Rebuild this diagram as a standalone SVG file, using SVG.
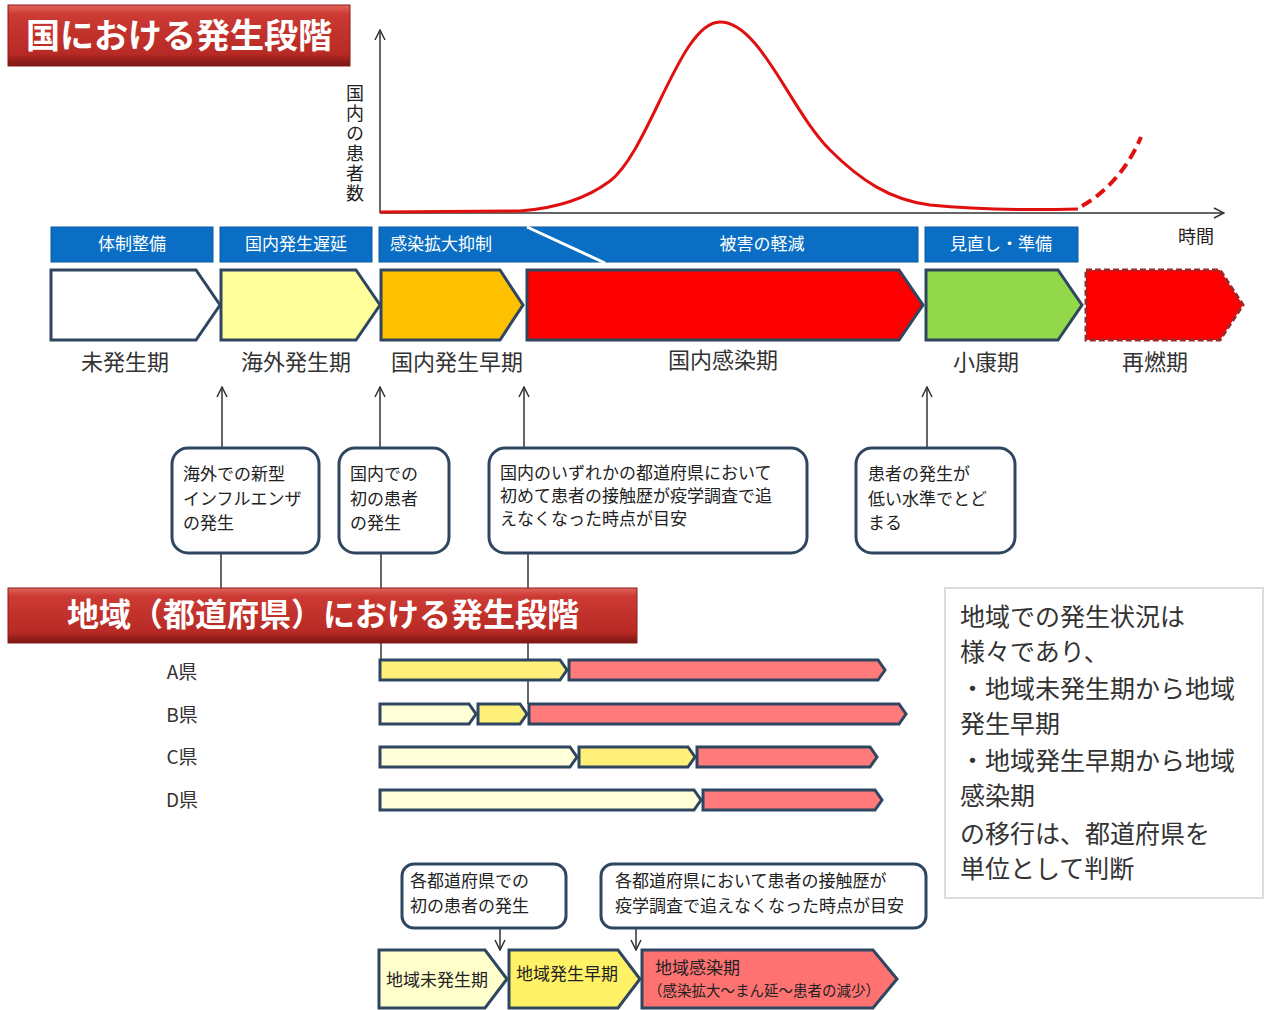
<svg xmlns="http://www.w3.org/2000/svg" width="1266" height="1010" viewBox="0 0 1266 1010">
<defs>
<linearGradient id="tg" x1="0" y1="0" x2="0" y2="1">
<stop offset="0" stop-color="#e0665c"/><stop offset="0.15" stop-color="#cc3a33"/><stop offset="0.8" stop-color="#b82a25"/><stop offset="1" stop-color="#7a1512"/>
</linearGradient>
<marker id="ah" viewBox="0 0 12 12" refX="11" refY="6" markerWidth="12" markerHeight="12" markerUnits="userSpaceOnUse" orient="auto">
<path d="M1,1 L11,6 L1,11" fill="none" stroke="#333" stroke-width="1.5"/>
</marker>
<style>
text{font-family:"Noto Sans CJK JP","Noto Sans CJK SC",sans-serif;fill:#222}
.title{fill:#fff;font-weight:bold}
.bar{fill:#0a6fc4;stroke:#0a5aa0;stroke-width:1}
.bt{fill:#fff;font-size:17px}
.ph{stroke:#2e4660;stroke-width:3}
.pl{font-size:22px;fill:#333}
.cb{fill:#fff;stroke:#2e4660;stroke-width:3}
.ct{font-size:17px}
.ar{stroke:#333;stroke-width:1.5;fill:none}
.rb{stroke:#2e4660;stroke-width:3}
.rl{font-size:19px;fill:#333}
.nt{font-size:25px;fill:#333}
.bl{font-size:17px}
</style>
</defs>

<g id="title1">
<rect x="8" y="5" width="342" height="61" fill="url(#tg)" stroke="#8a1d18" stroke-width="1"/>
<text x="179" y="48" class="title" font-size="34" text-anchor="middle">国における発生段階</text>
</g>

<g id="chart">
<line x1="380" y1="213" x2="380" y2="30" class="ar" marker-end="url(#ah)"/>
<line x1="380" y1="213" x2="1224" y2="213" class="ar" marker-end="url(#ah)"/>
<text x="355" y="84" font-size="18" writing-mode="vertical-rl" letter-spacing="2">国内の患者数</text>
<text x="1196" y="243" font-size="18" text-anchor="middle">時間</text>
<path d="M380,212 L520,211 C560,208 590,196 610,181 C650,150 680,22 720,22 C760,22 790,110 830,150 C860,180 890,200 930,205 C980,210 1040,210 1078,209" fill="none" stroke="#e01010" stroke-width="3"/>
<path d="M1082,206 C1105,193 1127,170 1141,137" fill="none" stroke="#e01010" stroke-width="4" stroke-dasharray="11 6"/>
</g>

<g id="strategy">
<rect x="51" y="227" width="162" height="35" class="bar"/>
<text x="132" y="250" class="bt" text-anchor="middle">体制整備</text>
<rect x="220" y="227" width="152" height="35" class="bar"/>
<text x="296" y="250" class="bt" text-anchor="middle">国内発生遅延</text>
<rect x="379" y="227" width="539" height="35" class="bar"/>
<line x1="527" y1="227" x2="605" y2="263" stroke="#fff" stroke-width="3"/>
<text x="390" y="250" class="bt">感染拡大抑制</text>
<text x="762" y="250" class="bt" text-anchor="middle">被害の軽減</text>
<rect x="925" y="227" width="153" height="35" class="bar"/>
<text x="1001" y="250" class="bt" text-anchor="middle">見直し・準備</text>
</g>

<g id="phases">
<polygon points="51,270 196,270 220,305 196,340 51,340" fill="#fff" class="ph"/>
<polygon points="221,270 356,270 380,305 356,340 221,340" fill="#ffff9c" class="ph"/>
<polygon points="381,270 500,270 523,305 500,340 381,340" fill="#ffc000" class="ph"/>
<polygon points="527,270 899,270 923,305 899,340 527,340" fill="#ff0000" class="ph"/>
<polygon points="926,270 1058,270 1082,305 1058,340 926,340" fill="#92d84a" class="ph"/>
<polygon points="1086,270 1220,270 1243,305 1220,340 1086,340" fill="#ff0000" stroke="#9a2a2a" stroke-width="3" stroke-dasharray="6 3"/>
<text x="125" y="370" class="pl" text-anchor="middle">未発生期</text>
<text x="296" y="370" class="pl" text-anchor="middle">海外発生期</text>
<text x="457" y="370" class="pl" text-anchor="middle">国内発生早期</text>
<text x="723" y="368" class="pl" text-anchor="middle">国内感染期</text>
<text x="986" y="370" class="pl" text-anchor="middle">小康期</text>
<text x="1155" y="370" class="pl" text-anchor="middle">再燃期</text>
</g>

<g id="connectors">
<line x1="222" y1="448" x2="222" y2="387" class="ar" marker-end="url(#ah)"/>
<line x1="380" y1="448" x2="380" y2="387" class="ar" marker-end="url(#ah)"/>
<line x1="524" y1="448" x2="524" y2="387" class="ar" marker-end="url(#ah)"/>
<line x1="927" y1="448" x2="927" y2="387" class="ar" marker-end="url(#ah)"/>
<line x1="221" y1="553" x2="221" y2="588" class="ar"/>
<line x1="381" y1="553" x2="381" y2="660" class="ar"/>
<line x1="528" y1="553" x2="528" y2="704" class="ar"/>
<line x1="500" y1="928" x2="500" y2="950" class="ar" marker-end="url(#ah)"/>
<line x1="636" y1="928" x2="636" y2="950" class="ar" marker-end="url(#ah)"/>
</g>

<g id="note1">
<rect x="172" y="448" width="147" height="105" rx="16" class="cb"/>
<text x="183" y="480" class="ct">海外での新型</text>
<text x="183" y="505" class="ct">インフルエンザ</text>
<text x="183" y="529" class="ct">の発生</text>
</g>
<g id="note2">
<rect x="339" y="448" width="110" height="105" rx="16" class="cb"/>
<text x="350" y="480" class="ct">国内での</text>
<text x="350" y="505" class="ct">初の患者</text>
<text x="350" y="529" class="ct">の発生</text>
</g>
<g id="note3">
<rect x="489" y="448" width="318" height="105" rx="16" class="cb"/>
<text x="500" y="479" class="ct">国内のいずれかの都道府県において</text>
<text x="500" y="502" class="ct">初めて患者の接触歴が疫学調査で追</text>
<text x="500" y="525" class="ct">えなくなった時点が目安</text>
</g>
<g id="note4">
<rect x="856" y="448" width="159" height="105" rx="16" class="cb"/>
<text x="868" y="480" class="ct">患者の発生が</text>
<text x="868" y="505" class="ct">低い水準でとど</text>
<text x="868" y="529" class="ct">まる</text>
</g>

<g id="title2">
<rect x="8" y="588" width="629" height="55" fill="url(#tg)" stroke="#8a1d18" stroke-width="1"/>
<text x="323" y="626" class="title" font-size="32" text-anchor="middle">地域（都道府県）における発生段階</text>
</g>

<g id="rows">
<text x="182" y="679" class="rl" text-anchor="middle">A県</text>
<text x="182" y="722" class="rl" text-anchor="middle">B県</text>
<text x="182" y="764" class="rl" text-anchor="middle">C県</text>
<text x="182" y="807" class="rl" text-anchor="middle">D県</text>
<polygon points="380,660 560,660 567,670 560,680 380,680" fill="#fff07a" class="rb"/>
<polygon points="569,660 878,660 885,670 878,680 569,680" fill="#ff7a7a" class="rb"/>
<polygon points="380,704 469,704 476,714 469,724 380,724" fill="#ffffd8" class="rb"/>
<polygon points="478,704 520,704 527,714 520,724 478,724" fill="#fff07a" class="rb"/>
<polygon points="529,704 899,704 906,714 899,724 529,724" fill="#ff7a7a" class="rb"/>
<polygon points="380,747 570,747 577,757 570,767 380,767" fill="#ffffd8" class="rb"/>
<polygon points="579,747 688,747 695,757 688,767 579,767" fill="#fff07a" class="rb"/>
<polygon points="697,747 870,747 877,757 870,767 697,767" fill="#ff7a7a" class="rb"/>
<polygon points="380,790 694,790 701,800 694,810 380,810" fill="#ffffd8" class="rb"/>
<polygon points="703,790 875,790 882,800 875,810 703,810" fill="#ff7a7a" class="rb"/>
</g>

<g id="note5">
<rect x="945" y="588" width="318" height="310" fill="#fff" stroke="#ddd" stroke-width="2"/>
<text x="960" y="626" class="nt">地域での発生状況は</text>
<text x="960" y="661" class="nt">様々であり、</text>
<text x="960" y="698" class="nt">・地域未発生期から地域</text>
<text x="960" y="733" class="nt">発生早期</text>
<text x="960" y="770" class="nt">・地域発生早期から地域</text>
<text x="960" y="805" class="nt">感染期</text>
<text x="960" y="843" class="nt">の移行は、都道府県を</text>
<text x="960" y="878" class="nt">単位として判断</text>
</g>

<g id="note6">
<rect x="402" y="864" width="164" height="64" rx="12" class="cb"/>
<text x="410" y="887" class="bl" font-size="19">各都道府県での</text>
<text x="410" y="912" class="bl" font-size="19">初の患者の発生</text>
</g>
<g id="note7">
<rect x="601" y="864" width="325" height="64" rx="12" class="cb"/>
<text x="615" y="887" class="bl" font-size="19">各都道府県において患者の接触歴が</text>
<text x="615" y="912" class="bl" font-size="19">疫学調査で追えなくなった時点が目安</text>
</g>

<g id="local">
<polygon points="379,950 485,950 507,979 485,1008 379,1008" fill="#ffffcc" class="ph"/>
<polygon points="509,950 618,950 640,979 618,1008 509,1008" fill="#fff266" class="ph"/>
<polygon points="642,950 873,950 897,979 873,1008 642,1008" fill="#ff7272" class="ph"/>
<text x="386" y="986" font-size="17">地域未発生期</text>
<text x="516" y="980" font-size="17">地域発生早期</text>
<text x="655" y="974" font-size="17">地域感染期</text>
<text x="648" y="996" font-size="15" textLength="232" lengthAdjust="spacingAndGlyphs">（感染拡大～まん延～患者の減少）</text>
</g>
</svg>
